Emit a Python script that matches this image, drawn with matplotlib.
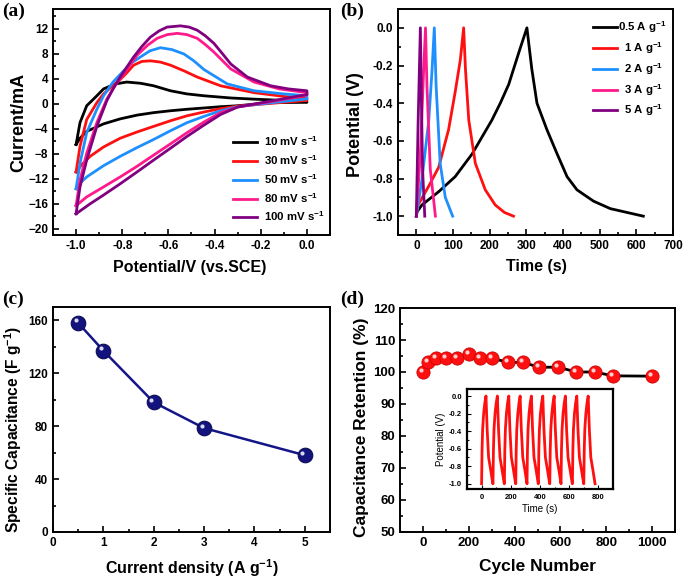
import numpy as np
import matplotlib
matplotlib.use("Agg")
import matplotlib.pyplot as plt
from matplotlib.ticker import MultipleLocator
from matplotlib.transforms import offset_copy

plt.rcParams['font.family'] = ['Liberation Sans', 'DejaVu Sans']
plt.rcParams['font.weight'] = 'bold'
plt.rcParams['axes.labelweight'] = 'bold'
plt.rcParams['mathtext.fontset'] = 'custom'
plt.rcParams['mathtext.bf'] = 'Liberation Sans:bold'
plt.rcParams['mathtext.rm'] = 'Liberation Sans:bold'
plt.rcParams['mathtext.default'] = 'bf'

# ---------------- (a) CV curves ----------------
cv_labels = ['10 mV s$^{-1}$', '30 mV s$^{-1}$', '50 mV s$^{-1}$', '80 mV s$^{-1}$', '100 mV s$^{-1}$']
cv_colors = ['#000000', '#ff1010', '#1e8fff', '#ff1a8c', '#800080']

# anodic (upper) branches, -1.0 -> 0.0
cv_up_x = [
    [-1.0, -0.983, -0.954, -0.91, -0.881, -0.83, -0.78, -0.72, -0.664, -0.591, -0.52, -0.446, -0.33, -0.229, -0.1, 0.0],
    [-1.0, -0.983, -0.954, -0.91, -0.881, -0.845, -0.809, -0.78, -0.751, -0.715, -0.678, -0.635, -0.591, -0.533,
     -0.475, -0.374, -0.229, -0.1, 0.0],
    [-1.0, -0.983, -0.954, -0.91, -0.881, -0.84, -0.794, -0.758, -0.722, -0.68, -0.635, -0.585, -0.533, -0.49,
     -0.446, -0.345, -0.229, -0.1, 0.0],
    [-1.0, -0.983, -0.954, -0.91, -0.867, -0.83, -0.79, -0.736, -0.69, -0.649, -0.605, -0.562, -0.52, -0.475,
     -0.44, -0.403, -0.33, -0.229, -0.12, 0.0],
    [-1.0, -0.983, -0.954, -0.91, -0.867, -0.84, -0.809, -0.751, -0.715, -0.678, -0.64, -0.606, -0.548, -0.51,
     -0.475, -0.44, -0.403, -0.365, -0.33, -0.258, -0.157, -0.08, 0.0],
]
cv_up_y = [
    [-6.5, -3.0, -0.3, 1.3, 2.4, 3.2, 3.5, 3.3, 2.9, 2.1, 1.6, 1.3, 0.95, 0.76, 0.55, 0.35],
    [-10.9, -6.8, -2.5, 0.2, 1.6, 2.8, 3.9, 5.0, 6.2, 6.8, 6.9, 6.7, 6.2, 5.3, 4.3, 2.9, 1.8, 1.2, 0.9],
    [-13.6, -9.5, -4.6, -0.86, 1.3, 3.5, 5.3, 6.6, 7.5, 8.5, 9.0, 8.7, 8.0, 6.9, 5.5, 3.2, 2.1, 1.6, 1.3],
    [-16.3, -12.2, -7.9, -3.0, 0.76, 3.0, 5.0, 7.8, 9.4, 10.5, 11.1, 11.3, 11.1, 10.5, 9.5, 8.3, 5.6, 3.5, 2.4, 1.8],
    [-17.6, -13.3, -9.0, -3.6, 0.5, 2.4, 4.3, 7.5, 9.2, 10.7, 11.7, 12.3, 12.5, 12.3, 11.8, 10.9, 9.7, 8.0, 6.4,
     4.3, 2.9, 2.4, 2.1],
]
# cathodic (lower) branches, 0.0 -> -1.0
cv_dn_x = [
    [0.0, -0.157, -0.301, -0.374, -0.519, -0.591, -0.664, -0.736, -0.809, -0.881, -0.954, -0.983, -1.0],
    [0.0, -0.15, -0.3, -0.374, -0.446, -0.519, -0.591, -0.664, -0.736, -0.809, -0.881, -0.939, -0.975, -1.0],
    [0.0, -0.15, -0.3, -0.374, -0.446, -0.519, -0.591, -0.664, -0.736, -0.809, -0.881, -0.954, -0.983, -1.0],
    [0.0, -0.15, -0.3, -0.374, -0.446, -0.519, -0.591, -0.664, -0.736, -0.809, -0.881, -0.954, -1.0],
    [0.0, -0.15, -0.3, -0.374, -0.446, -0.519, -0.591, -0.664, -0.736, -0.809, -0.881, -0.939, -1.0],
]
cv_dn_y = [
    [0.25, 0.2, -0.3, -0.45, -0.86, -1.1, -1.4, -1.8, -2.4, -3.2, -4.4, -5.5, -6.5],
    [0.55, 0.1, -0.35, -0.76, -1.3, -1.9, -2.7, -3.6, -4.5, -5.5, -6.9, -8.4, -9.7, -10.9],
    [0.8, 0.2, -0.45, -1.1, -2.0, -3.0, -4.3, -5.7, -7.0, -8.4, -9.9, -11.7, -12.7, -13.6],
    [1.4, 0.4, -0.5, -1.4, -2.9, -4.6, -6.4, -8.2, -10.0, -11.7, -13.3, -14.9, -16.3],
    [1.5, 0.5, -0.5, -1.7, -3.4, -5.2, -7.1, -9.0, -10.9, -12.8, -14.6, -16.0, -17.6],
]

# ---------------- (b) GCD curves ----------------
gcd_labels = ['0.5 A g$^{-1}$', '  1 A g$^{-1}$', '  2 A g$^{-1}$', '  3 A g$^{-1}$', '  5 A g$^{-1}$']
gcd_colors = ['#000000', '#ff1010', '#1e8fff', '#ff1a8c', '#800080']
gcd_t = [
    [0, 2, 15.5, 61, 106, 152, 206, 229, 252, 265, 283, 301.6, 315, 329, 356, 383, 411, 438, 483, 529, 574, 619],
    [0, 2, 34, 61, 88, 106, 120, 129, 134, 143, 161, 188, 215, 240, 265],
    [0, 15, 34, 43, 49, 54, 65, 79, 99],
    [0, 11, 20, 25, 29, 38, 52],
    [0, 5, 11, 14, 17, 23],
]
gcd_v = [
    [-1.0, -0.977, -0.94, -0.87, -0.79, -0.67, -0.49, -0.40, -0.30, -0.22, -0.11, 0.0, -0.22, -0.40, -0.54, -0.665,
     -0.79, -0.86, -0.92, -0.96, -0.98, -1.0],
    [-1.0, -0.95, -0.84, -0.74, -0.54, -0.34, -0.17, 0.0, -0.22, -0.49, -0.72, -0.86, -0.94, -0.98, -1.0],
    [-1.0, -0.81, -0.49, -0.22, 0.0, -0.31, -0.72, -0.9, -1.0],
    [-1.0, -0.67, -0.22, 0.0, -0.31, -0.75, -1.0],
    [-1.0, -0.49, 0.0, -0.4, -0.75, -1.0],
]

# ---------------- (c) rate capability ----------------
current_density = [0.5, 1, 2, 3, 5]
spec_cap = [158, 137, 98, 78.5, 58]

# ---------------- (d) cycling ----------------
cycle_no = [0, 22, 59, 100, 149, 200, 250, 301, 373, 436, 508, 590, 670, 750, 829, 1000]
retention = [100, 103, 104.3, 104.3, 104.3, 105.7, 104.3, 104.3, 103, 103, 101.5, 101.5, 100, 100, 98.8, 98.7]

# inset: repeated charge/discharge cycles
inset_starts = [0, 78, 156, 234, 311, 389, 467, 544, 622, 700]
cycle_dt = [0, 3, 7, 14, 22, 30, 38, 48, 62, 77]
cycle_v = [-1.0, -0.62, -0.38, -0.2, -0.08, 0.0, -0.38, -0.7, -0.84, -1.0]

W, H = 685, 580
fig = plt.figure(figsize=(W / 100, H / 100), dpi=100)

def box(l, r, t, b):
    return [l / W, (H - b) / H, (r - l) / W, (b - t) / H]

def style(ax, fs=8.5, lw=1.4):
    for s in ax.spines.values():
        s.set_linewidth(lw)
    ax.tick_params(which='both', direction='in', top=False, right=False, labelsize=fs, width=1.2)
    ax.tick_params(which='major', length=4.5)
    ax.tick_params(which='minor', length=2.5)

fmt1 = plt.FuncFormatter(lambda v, p: '%.1f' % v if abs(v) > 1e-9 else '0.0')

# (a)
axa = fig.add_axes(box(53, 330, 9, 235))
for i in range(5):
    xs = cv_up_x[i] + cv_dn_x[i]
    ys = cv_up_y[i] + cv_dn_y[i]
    axa.plot(xs, ys, color=cv_colors[i], lw=2.0, label=cv_labels[i], solid_joinstyle='round')
axa.set_xlim(-1.1, 0.1)
axa.set_ylim(-21, 15.2)
axa.xaxis.set_major_locator(MultipleLocator(0.2))
axa.xaxis.set_minor_locator(MultipleLocator(0.1))
axa.yaxis.set_major_locator(MultipleLocator(4))
axa.yaxis.set_minor_locator(MultipleLocator(2))
axa.xaxis.set_major_formatter(fmt1)
style(axa)
axa.set_xlabel('Potential/V (vs.SCE)', fontsize=11.5)
axa.set_ylabel('Current/mA', fontsize=13)
axa.xaxis.set_label_coords(0.495, -0.111)
axa.yaxis.set_label_coords(-0.094, 0.498)
axa.legend(loc='upper left', frameon=False, fontsize=8.2, handlelength=2.1, labelspacing=0.45,
           bbox_to_anchor=(0.65, 0.447), borderpad=0, borderaxespad=0, handletextpad=0.65)

# (b)
axb = fig.add_axes(box(398, 673, 9, 235))
for i in range(5):
    axb.plot(gcd_t[i], gcd_v[i], color=gcd_colors[i], lw=2.0, label=gcd_labels[i])
axb.set_xlim(-50, 700)
axb.set_ylim(-1.1, 0.1)
axb.xaxis.set_major_locator(MultipleLocator(100))
axb.xaxis.set_minor_locator(MultipleLocator(50))
axb.yaxis.set_major_locator(MultipleLocator(0.2))
axb.yaxis.set_minor_locator(MultipleLocator(0.1))
axb.yaxis.set_major_formatter(fmt1)
style(axb)
axb.set_xlabel('Time (s)', fontsize=11.5)
axb.set_ylabel('Potential (V)', fontsize=13)
axb.xaxis.set_label_coords(0.502, -0.106)
axb.yaxis.set_label_coords(-0.124, 0.49)
axb.legend(loc='upper left', frameon=False, fontsize=8.2, handlelength=2.1, labelspacing=0.45,
           bbox_to_anchor=(0.709, 0.956), borderpad=0, borderaxespad=0, handletextpad=0.1)

# (c)
axc = fig.add_axes(box(53, 330, 307, 532))
axc.plot(current_density, spec_cap, color='#15158a', lw=1.8, marker='o', ms=10.5,
         mfc='#13137e', mec='#0b0b55', mew=0.8)
hl = offset_copy(axc.transData, fig=fig, x=-1.8, y=1.8, units='points')
axc.plot(current_density, spec_cap, ls='none', marker='o', ms=3, mfc='#d8d8f0', mec='none', transform=hl)
axc.set_xlim(0, 5.5)
axc.set_ylim(0, 170)
axc.xaxis.set_major_locator(MultipleLocator(1))
axc.xaxis.set_minor_locator(MultipleLocator(0.5))
axc.yaxis.set_major_locator(MultipleLocator(40))
axc.yaxis.set_minor_locator(MultipleLocator(20))
style(axc)
axc.set_xlabel('Current density (A g$^{-1}$)', fontsize=11.5)
axc.set_ylabel('Specific Capacitance (F g$^{-1}$)', fontsize=11.2)
axc.xaxis.set_label_coords(0.5, -0.112)
axc.yaxis.set_label_coords(-0.105, 0.458)

# (d)
axd = fig.add_axes(box(400, 675, 308, 532))
axd.plot(cycle_no, retention, color='black', lw=2.0, zorder=1)
axd.plot(cycle_no, retention, ls='none', marker='o', ms=9.5, mfc='#ff1010', mec='#cc0000', mew=0.6, zorder=2)
hl2 = offset_copy(axd.transData, fig=fig, x=-1.6, y=1.6, units='points')
axd.plot(cycle_no, retention, ls='none', marker='o', ms=3, mfc='#ffd0d0', mec='none', transform=hl2, zorder=3)
axd.set_xlim(-100, 1100)
axd.set_ylim(50, 120)
axd.xaxis.set_major_locator(MultipleLocator(200))
axd.xaxis.set_minor_locator(MultipleLocator(100))
axd.yaxis.set_major_locator(MultipleLocator(10))
axd.yaxis.set_minor_locator(MultipleLocator(5))
style(axd, fs=9.5)
axd.set_xlabel('Cycle Number', fontsize=12.5)
axd.set_ylabel('Capacitance Retention (%)', fontsize=12.5)
axd.xaxis.set_label_coords(0.5, -0.12)
axd.yaxis.set_label_coords(-0.113, 0.469)

# inset
axi = fig.add_axes(box(467, 613, 389, 489))
ti, vi = [], []
for s in inset_starts:
    ti += [s + d for d in cycle_dt]
    vi += cycle_v
axi.plot(ti, vi, color='#ff1010', lw=2.0)
axi.set_xlim(-100, 900)
axi.set_ylim(-1.06, 0.08)
axi.xaxis.set_major_locator(MultipleLocator(200))
axi.xaxis.set_minor_locator(MultipleLocator(100))
axi.yaxis.set_major_locator(MultipleLocator(0.2))
axi.yaxis.set_minor_locator(MultipleLocator(0.1))
axi.yaxis.set_major_formatter(fmt1)
for s in axi.spines.values():
    s.set_linewidth(1.6)
axi.tick_params(which='both', direction='in', labelsize=5.5, width=0.8)
axi.tick_params(which='major', length=3)
axi.tick_params(which='minor', length=1.5)
axi.set_xlabel('Time (s)', fontsize=7, fontweight='normal', labelpad=2)
axi.set_ylabel('Potential (V)', fontsize=7, fontweight='normal', labelpad=2)

# panel letters
for txt, x, y in [('(a)', 2, 16), ('(b)', 340, 16), ('(c)', 2, 304), ('(d)', 340, 304)]:
    fig.text(x / W, 1 - y / H, txt, fontsize=14, fontweight='bold', family=['Liberation Serif'])

fig.savefig('out.png', dpi=100)
